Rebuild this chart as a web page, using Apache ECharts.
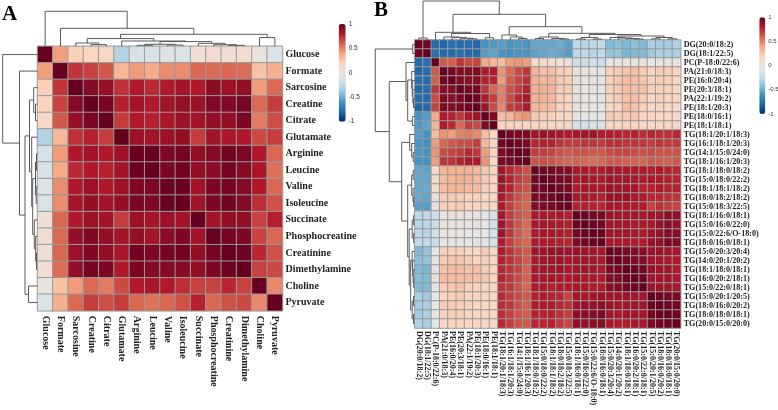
<!DOCTYPE html>
<html><head><meta charset="utf-8">
<style>html,body{margin:0;padding:0;background:#fff}#c{width:778px;height:410px}</style>
<script src="https://cdn.jsdelivr.net/npm/echarts@6/dist/echarts.min.js"></script>
</head><body><div id="c"></div>
<script>
const metabolites = ['Glucose','Formate','Sarcosine','Creatine','Citrate','Glutamate','Arginine','Leucine','Valine','Isoleucine','Succinate','Phosphocreatine','Creatinine','Dimethylamine','Choline','Pyruvate'];
const lipids = ['DG(20:0/18:2)','DG(18:1/22:5)','PC(P-18:0/22:6)','PA(21:0/18:3)','PE(16:0/20:4)','PE(20:3/18:1)','PA(22:1/19:2)','PE(18:1/20:3)','PE(18:0/16:1)','PE(18:1/18:1)','TG(18:1/20:1/18:3)','TG(16:1/18:1/20:3)','TG(14:1/15:0/24:0)','TG(18:1/16:1/20:3)','TG(18:1/18:0/18:2)','TG(15:0/18:0/22:2)','TG(18:1/18:1/18:2)','TG(18:0/18:2/18:2)','TG(15:0/18:3/22:5)','TG(18:1/16:0/18:1)','TG(15:0/16:0/22:0)','TG(15:0/22:6/O-18:0)','TG(18:0/16:0/18:1)','TG(15:0/20:3/20:4)','TG(14:0/20:1/20:2)','TG(18:1/18:0/18:1)','TG(16:0/20:2/18:1)','TG(15:0/22:0/18:1)','TG(15:0/20:1/20:5)','TG(18:0/16:0/20:2)','TG(18:0/18:0/18:1)','TG(20:0/15:0/20:0)'];
const metaboliteCorr = [
[1,.42,.22,.2,.17,-.3,-.14,-.14,-.07,-.11,.09,.11,.09,.1,.03,-.1],
[.42,1,.72,.68,.62,.33,.43,.38,.47,.47,.58,.57,.58,.56,.28,.36],
[.22,.72,1,.92,.87,.73,.8,.75,.8,.84,.8,.9,.86,.88,.43,.57],
[.2,.68,.92,1,.95,.78,.84,.8,.85,.88,.86,.93,.93,.96,.57,.7],
[.17,.62,.87,.95,1,.7,.8,.78,.82,.86,.84,.88,.88,.94,.52,.65],
[-.3,.33,.73,.78,.7,1,.86,.84,.86,.88,.7,.84,.82,.8,.66,.7],
[-.14,.43,.8,.84,.8,.86,1,.99,.94,.96,.88,.92,.97,.95,.8,.58],
[-.14,.38,.75,.8,.78,.84,.99,1,.95,.97,.88,.9,.96,.92,.82,.55],
[-.07,.47,.8,.86,.8,.86,.94,.94,.99,.99,.84,.94,.96,.92,.8,.58],
[-.11,.47,.83,.88,.84,.88,.95,.94,.99,1,.84,.94,.97,.92,.74,.64],
[.09,.58,.8,.86,.84,.7,.86,.83,.86,.84,1,.84,.88,.88,.68,.78],
[.11,.57,.88,.93,.88,.84,.88,.84,.9,.94,.84,1,.96,.94,.68,.58],
[.09,.58,.86,.93,.88,.82,.97,.94,.96,.97,.88,.96,1,.98,.76,.64],
[.1,.56,.88,.96,.94,.8,.95,.92,.92,.92,.88,.94,.98,1,.68,.66],
[.03,.28,.43,.57,.52,.66,.8,.82,.8,.74,.68,.68,.76,.68,1,.48],
[-.1,.36,.57,.7,.65,.7,.58,.55,.58,.64,.78,.58,.64,.66,.48,1]
];
const lipidCorrPct = [
[100,97,-78,-80,-76,-78,-76,-80,-60,-58,-56,-60,-58,-60,-52,-52,-52,-50,-54,-26,-28,-26,-24,-44,-42,-44,-42,-44,-32,-34,-34,-30],
[97,100,-76,-78,-78,-76,-78,-78,-56,-54,-60,-62,-60,-60,-54,-52,-50,-52,-56,-26,-26,-28,-24,-40,-40,-46,-44,-44,-36,-32,-32,-32],
[-78,-76,100,62,60,72,66,68,38,33,30,42,45,42,14,15,12,6,5,-20,-22,-20,-22,-2,3,4,3,2,0,2,1,-2],
[-80,-78,62,100,96,90,92,93,80,80,45,58,66,72,34,30,30,24,22,4,6,2,0,22,24,28,30,24,20,24,22,20],
[-76,-78,60,96,100,92,90,92,78,76,42,62,68,74,35,33,33,25,23,5,3,3,0,22,26,30,30,26,22,24,22,20],
[-78,-76,72,90,92,100,94,95,72,58,50,65,70,78,35,36,34,24,24,4,4,2,-2,22,26,30,30,28,24,22,22,20],
[-76,-78,66,92,90,94,100,97,80,70,52,66,76,82,35,35,32,22,20,2,2,0,-3,20,24,28,30,24,20,22,20,20],
[-80,-78,68,93,92,95,97,100,85,66,48,70,72,80,33,32,30,22,20,4,2,1,-1,18,20,30,28,22,20,20,18,18],
[-60,-56,38,80,78,72,80,85,100,93,30,33,42,45,26,24,22,18,18,1,0,0,-2,24,22,24,26,20,20,18,18,16],
[-58,-54,33,80,76,58,70,66,93,100,20,19,21,20,20,20,18,17,16,-14,-16,-14,-12,16,18,20,20,18,16,17,18,16],
[-56,-60,30,45,42,50,52,48,30,20,100,96,93,94,84,86,84,82,80,82,84,84,80,80,78,76,78,74,76,74,74,76],
[-60,-62,42,58,62,65,66,70,33,19,96,100,96,95,76,78,78,72,70,70,72,72,70,74,74,72,72,72,70,72,70,70],
[-58,-60,45,66,68,70,76,72,42,21,93,96,100,97,70,70,68,64,62,64,64,62,62,66,68,68,66,64,66,64,64,64],
[-60,-60,42,72,74,78,82,80,45,20,94,95,97,100,64,66,64,60,58,60,58,56,58,62,62,60,60,58,62,60,60,62],
[-52,-54,14,34,35,35,35,33,26,20,84,76,70,64,100,96,96,93,92,82,82,80,80,84,82,82,82,80,78,80,78,76],
[-52,-52,15,30,33,36,35,32,24,20,86,78,70,66,96,100,97,94,93,82,84,82,80,84,84,84,82,80,80,80,78,76],
[-52,-50,12,30,33,34,32,30,22,18,84,78,68,64,96,97,100,96,95,80,82,82,80,86,84,84,84,78,78,80,78,78],
[-50,-52,6,24,25,24,22,22,18,17,82,72,64,60,93,94,96,100,98,82,82,80,78,86,86,86,82,80,76,76,74,72],
[-54,-56,5,22,23,24,20,20,18,16,80,70,62,58,92,93,95,98,100,78,78,78,76,84,82,82,80,80,68,74,70,68],
[-26,-26,-20,4,5,4,2,4,1,-14,82,70,64,60,82,82,80,82,78,100,98,96,94,86,84,84,84,82,84,84,90,88],
[-28,-26,-22,6,3,4,2,2,0,-16,84,72,64,58,82,84,82,82,78,98,100,98,96,84,84,84,82,82,82,86,90,88],
[-26,-28,-20,2,3,2,0,1,0,-14,84,72,62,56,80,82,82,80,78,96,98,100,98,84,84,84,82,80,84,86,92,90],
[-24,-24,-22,0,0,-2,-3,-1,-2,-12,80,70,62,58,80,80,80,78,76,94,96,98,100,82,82,82,80,80,86,88,94,92],
[-44,-40,-2,22,22,22,20,18,24,16,80,74,66,62,84,84,86,86,84,86,84,84,82,100,96,94,92,90,84,86,84,82],
[-42,-40,3,24,26,26,24,20,22,18,78,74,68,62,82,84,84,86,82,84,84,84,82,96,100,96,94,92,84,84,82,80],
[-44,-46,4,28,30,30,28,30,24,20,76,72,68,60,82,84,84,86,82,84,84,84,82,94,96,100,98,96,86,84,84,80],
[-42,-44,3,30,30,30,30,28,26,20,78,72,66,60,82,82,84,82,80,84,82,82,80,92,94,98,100,97,84,84,84,82],
[-44,-44,2,24,26,28,24,22,20,18,74,72,64,58,80,80,78,80,80,82,82,80,80,90,92,96,97,100,84,84,84,82],
[-32,-36,0,20,22,24,20,20,20,16,76,70,66,62,78,80,78,76,68,84,82,84,86,84,84,86,84,84,100,97,96,94],
[-34,-32,2,24,24,22,22,20,18,17,74,72,64,60,80,80,80,76,74,84,86,86,88,86,84,84,84,84,97,100,98,96],
[-34,-32,1,22,22,22,20,18,18,18,74,70,64,60,78,78,78,74,70,90,90,92,94,84,82,84,84,84,96,98,100,98],
[-30,-32,-2,20,20,20,20,18,16,16,76,70,64,62,76,76,78,72,68,88,88,90,92,82,80,80,82,82,94,96,98,100]
];
// Dendrograms as [merge height, left child, right child]; a plain number is a leaf index.
const treeATop = [35,0,[18,1,[12,[7.7,[3.3,2,[1.7,3,4]],[5.3,5,[4.7,[2,[1,6,7],[1.3,8,9]],[3,10,[1.6,11,[1,12,13]]]]]],[8.7,14,15]]]];
const treeALeft = [34.8,0,[18,1,[12.5,[8,[3.8,2,[2,3,4]],[5.8,5,[4.8,[2,[1,6,7],[1.3,8,9]],[3.2,10,[1.8,11,[1,12,13]]]]]],[9,14,15]]]];
const treeBTop = [39,[2,0,1],[25.7,[7.7,2,[6.5,[3,3,[2.4,4,[1.8,5,[1.2,6,7]]]],[2.3,8,9]]],[13.3,[5,10,[3,11,[1.5,12,13]]],[6.7,[3,[1.5,14,15],[1.6,16,[1,17,18]]],[5.5,[2.5,[1,19,20],[1,21,22]],[4,[2.5,23,[2,24,[1.5,25,[1,26,27]]]],[2.5,[1.2,28,29],[1.2,30,31]]]]]]]];
const treeBLeft = [39.4,[2,0,1],[25.4,[8.7,2,[7,[3,3,[2.4,4,[1.8,5,[1.2,6,7]]]],[2.3,8,9]]],[13,[5,10,[3,11,[1.5,12,13]]],[7,[3,[1.5,14,15],[1.6,16,[1,17,18]]],[5.5,[2.5,[1,19,20],[1,21,22]],[4,[2.5,23,[2,24,[1.5,25,[1,26,27]]]],[2.5,[1.2,28,29],[1.2,30,31]]]]]]]];
const colorTicks = {'1':'1','0.5':'0.5','0':'0','-0.5':'-0.5','-1':'-1'};
const rdbu = ['#053061','#2166AC','#4393C3','#92C5DE','#CFE0EA','#E6E5E3','#FBD5C0','#F4A582','#D6604D','#B2182B','#67001F'];

const serif = '"Liberation Serif"';
function merges(t, out){
  if (typeof t === 'number') return {p: t + 0.5, h: 0};
  const a = merges(t[1], out), b = merges(t[2], out);
  out.push([a.p, a.h, b.p, b.h, t[0]]);
  return {p: (a.p + b.p) / 2, h: t[0]};
}
function segs(t){ const o = []; merges(t, o); return o; }
function cells(m, scale){ const o = []; m.forEach((r,y)=>r.forEach((v,x)=>o.push([x,y,v*scale]))); return o; }

const grids = [], xAxes = [], yAxes = [], series = [];
function addGrid(g, x, y){ grids.push(Object.assign({outerBoundsMode:'none'},g)); xAxes.push(Object.assign({gridIndex:grids.length-1}, x)); yAxes.push(Object.assign({gridIndex:grids.length-1}, y)); return grids.length-1; }
const hid = {show:false};
function heat(box, names, m, scale, yFont, xFont, yMargin, xMargin){
  const i = addGrid(box,
    {type:'category',data:names,position:'bottom',axisLine:hid,axisTick:hid,splitLine:hid,
     axisLabel:{interval:0,rotate:-90,fontFamily:serif,fontWeight:'bold',fontSize:xFont,color:'#222',margin:xMargin}},
    {type:'category',data:names,inverse:true,position:'right',axisLine:hid,axisTick:hid,splitLine:hid,
     axisLabel:{interval:0,fontFamily:serif,fontWeight:'bold',fontSize:yFont,color:'#222',margin:yMargin}});
  series.push({type:'heatmap',xAxisIndex:i,yAxisIndex:i,data:cells(m,scale),silent:true,progressive:0,
    itemStyle:{borderColor:'#999',borderWidth:1},emphasis:{disabled:true}});
  return series.length-1;
}
function dendro(box, tree, n, maxH, horizontal){
  const pos = {type:'value',min:0,max:n,show:false,inverse:!horizontal};
  const hgt = {type:'value',min:0,max:maxH,show:false,inverse:!horizontal};
  const i = addGrid(box, horizontal?pos:hgt, horizontal?hgt:pos);
  series.push({type:'custom',xAxisIndex:i,yAxisIndex:i,silent:true,clip:false,
    encode:{x:horizontal?[0,2]:[1,3],y:horizontal?[1,3]:[0,2]},
    data:segs(tree),
    renderItem:(p,api)=>{
      const P=(q,h)=>api.coord(horizontal?[q,h]:[h,q]);
      const a=api.value(0),ah=api.value(1),b=api.value(2),bh=api.value(3),h=api.value(4);
      return {type:'polyline',shape:{points:[P(a,ah),P(a,h),P(b,h),P(b,bh)]},style:{fill:null,stroke:'#5a5a5a',lineWidth:1}};
    }});
}
function colorAxis(box, fontSize){
  addGrid(box,{type:'category',show:false,data:['']},
    {type:'value',min:-1,max:1,interval:0.5,position:'right',axisLine:hid,axisTick:hid,splitLine:hid,
     axisLabel:{fontFamily:'"Liberation Sans"',fontSize,color:'#333',margin:3,formatter:v=>colorTicks[String(v)]}});
}

const A = {left:37.5,top:46.3,width:245,height:264.5};
const B = {left:414.7,top:40,width:266,height:288};
const sA = heat(A, metabolites, metaboliteCorr, 1, 10, 10, 3, 5);
const sB = heat(B, lipids, lipidCorrPct, 0.01, 8.1, 8, 3, 3);
dendro({left:A.left,top:0,width:A.width,height:A.top}, treeATop, 16, 46.3, true);
dendro({left:0,top:A.top,width:A.left,height:A.height}, treeALeft, 16, 37.5, false);
dendro({left:B.left,top:0,width:B.width,height:B.top}, treeBTop, 32, 40, true);
dendro({left:374.7,top:B.top,width:40,height:B.height}, treeBLeft, 32, 40, false);
colorAxis({left:338.7,top:24,width:7,height:97.7}, 6.5);
colorAxis({left:759.3,top:17.3,width:6,height:96.7}, 6);

const vm = (idx,left,top,w,h)=>({type:'continuous',seriesIndex:idx,min:-1,max:1,calculable:false,hoverLink:false,realtime:false,
  left,top,itemWidth:w,itemHeight:h,text:['',''],textGap:0,padding:0,inRange:{color:rdbu}});

const chart = echarts.init(document.getElementById('c'),null,{renderer:'canvas'});
chart.setOption({
  animation:false,backgroundColor:'#fff',
  grid:grids,xAxis:xAxes,yAxis:yAxes,series,
  visualMap:[vm(sA,338.7,24,7,97.7),vm(sB,759.3,17.3,6,96.7)],
  tooltip:{show:false},
  graphic:[
    {type:'text',left:2,top:4,silent:true,style:{text:'A',font:'bold 21px "Liberation Serif"',fill:'#000'}},
    {type:'text',left:374,top:0,silent:true,style:{text:'B',font:'bold 21px "Liberation Serif"',fill:'#000'}}
  ]
});
</script></body></html>
